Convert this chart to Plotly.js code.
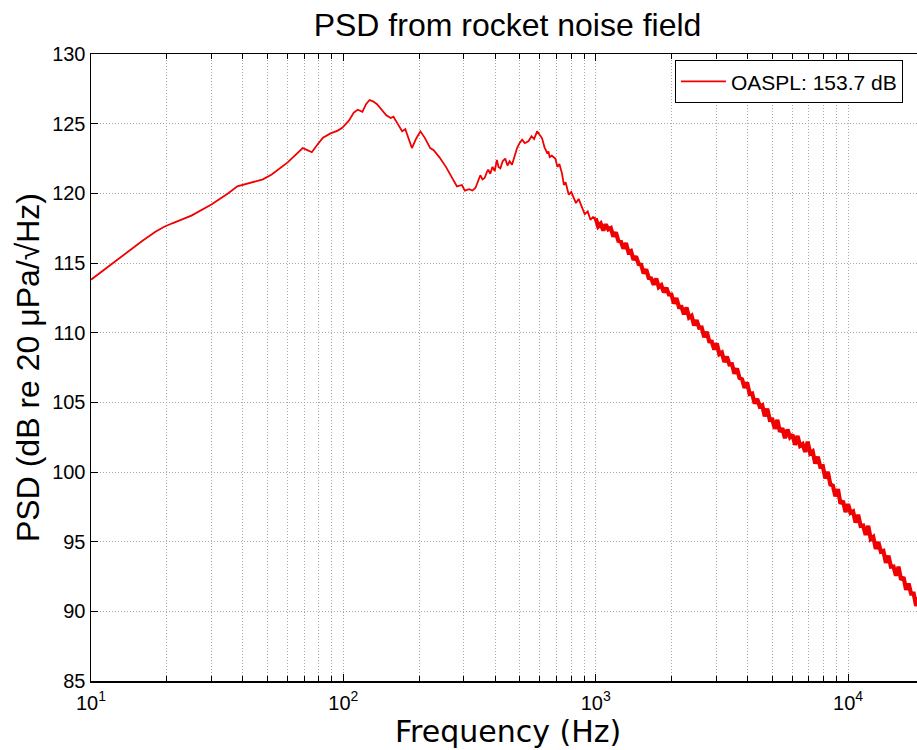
<!DOCTYPE html>
<html>
<head>
<meta charset="utf-8">
<script src="https://cdn.plot.ly/plotly-3.0.1.min.js"></script>
<style>
html,body{margin:0;padding:0;overflow:hidden;background:#fff;}
#chart{width:934px;height:750px;}
</style>
</head>
<body>
<div id="chart"></div>
<script>
// Smooth low/mid-frequency part (Hz, dB)
var freqLow = [10, 12, 14, 16, 18, 19.5, 21, 25, 30, 35, 38, 42, 48, 52, 56, 60, 65, 69, 72, 75, 79, 83, 89, 95, 99, 105, 110, 114, 119, 123, 127, 131, 136, 142, 148, 154, 158, 164, 171, 176, 182, 187, 194, 202, 210, 221, 228, 240, 255, 270, 282, 295, 303, 315, 325, 334, 342, 349, 356, 363, 370, 375, 382, 390, 398, 406, 412, 419, 428, 438, 447, 456, 466, 477, 488, 499, 511, 524, 542, 557, 570, 586, 600, 613, 627, 642, 650, 657, 670, 692, 705, 718, 736, 748, 760, 782, 800, 818, 835, 856, 880, 905, 930, 953, 975, 1000];
var psdLow = [113.8, 114.9, 115.8, 116.6, 117.25, 117.6, 117.85, 118.4, 119.2, 120.0, 120.5, 120.7, 121.0, 121.35, 121.8, 122.2, 122.8, 123.25, 123.1, 122.95, 123.5, 124.0, 124.3, 124.5, 124.7, 125.2, 125.8, 126.0, 125.85, 126.4, 126.7, 126.6, 126.4, 126.0, 125.6, 125.4, 125.5, 125.0, 124.45, 124.6, 123.8, 123.25, 123.9, 124.45, 124.0, 123.25, 123.1, 122.6, 121.9, 121.1, 120.5, 120.6, 120.2, 120.3, 120.2, 120.4, 120.9, 121.3, 121.0, 121.1, 121.5, 121.7, 121.4, 121.9, 121.6, 122.4, 121.9, 121.8, 122.3, 122.5, 122.0, 122.3, 122.05, 122.7, 123.25, 123.6, 123.85, 123.6, 123.75, 124.1, 123.9, 124.45, 124.2, 123.95, 123.3, 122.9, 123.0, 122.6, 122.7, 122.5, 121.9, 122.1, 121.4, 120.6, 120.8, 119.9, 120.1, 119.7, 119.3, 119.6, 119.0, 118.5, 118.7, 118.1, 118.3, 118.2];

// Noisy high-frequency part (Hz, dB)
var freqHigh = [1000, 1023, 1047, 1072, 1096, 1122, 1148, 1175, 1202, 1230, 1259, 1288, 1318, 1349, 1380, 1413, 1445, 1479, 1514, 1549, 1585, 1622, 1660, 1698, 1738, 1778, 1820, 1862, 1905, 1950, 1995, 2042, 2089, 2138, 2188, 2239, 2291, 2344, 2399, 2455, 2512, 2570, 2630, 2692, 2754, 2818, 2884, 2951, 3020, 3090, 3162, 3236, 3311, 3388, 3467, 3548, 3631, 3715, 3802, 3890, 3981, 4074, 4169, 4266, 4365, 4467, 4571, 4677, 4786, 4898, 5012, 5129, 5248, 5370, 5495, 5623, 5754, 5888, 6026, 6166, 6310, 6457, 6607, 6761, 6918, 7079, 7244, 7413, 7586, 7762, 7943, 8128, 8318, 8511, 8710, 8913, 9120, 9333, 9550, 9772, 10000, 10233, 10471, 10715, 10965, 11220, 11482, 11749, 12023, 12303, 12589, 12882, 13183, 13490, 13804, 14125, 14454, 14791, 15136, 15488, 15849, 16218, 16596, 16982, 17378, 17783, 18197, 18621, 19055, 19498, 19953];
var psdHigh = [118.2, 117.63, 117.82, 117.34, 117.77, 117.41, 117.51, 116.9, 117.2, 116.59, 116.53, 116.03, 116.43, 115.77, 115.86, 115.23, 115.48, 114.93, 114.88, 114.26, 114.55, 113.93, 113.89, 113.45, 113.89, 113.27, 113.41, 112.89, 113.23, 112.74, 112.74, 112.09, 112.48, 111.83, 111.84, 111.32, 111.81, 111.08, 111.21, 110.52, 110.89, 110.35, 110.37, 109.68, 110.06, 109.38, 109.35, 108.79, 109.23, 108.46, 108.57, 107.89, 108.27, 107.72, 107.74, 107.06, 107.43, 106.74, 106.66, 106.04, 106.43, 105.6, 105.64, 104.91, 105.25, 104.71, 104.79, 103.99, 104.54, 103.74, 103.76, 103.1, 103.74, 102.88, 103.14, 102.42, 103.05, 102.5, 102.68, 101.95, 102.59, 101.88, 102.0, 101.44, 102.17, 101.34, 101.48, 100.6, 101.09, 100.39, 100.42, 99.54, 100.01, 99.1, 99.02, 98.25, 98.77, 97.73, 97.93, 97.13, 97.69, 97.07, 97.17, 96.37, 96.93, 96.13, 96.15, 95.49, 96.14, 95.2, 95.34, 94.48, 94.98, 94.29, 94.34, 93.48, 94.0, 93.2, 93.22, 92.56, 93.2, 92.27, 92.45, 91.55, 92.0, 91.27, 91.27, 90.39, 90.98, 90.22, 90.27];

var seriesName = 'OASPL: 153.7 dB';
var xTickVals = [10, 100, 1000, 10000];
var xTickText = ['10<sup>1</sup>', '10<sup>2</sup>', '10<sup>3</sup>', '10<sup>4</sup>'];
var xMinorVals = [20,30,40,50,60,70,80,90,200,300,400,500,600,700,800,900,2000,3000,4000,5000,6000,7000,8000,9000,20000];

var gridDash = '1px,2px';
var gridColor = '#a8a8a8';
var lineColor = '#f00000';

var traceLow = {
  x: freqLow, y: psdLow, type: 'scatter', mode: 'lines', name: seriesName,
  legendgroup: 'psd', showlegend: true,
  line: {color: lineColor, width: 1.8}
};
var traceHigh = {
  x: freqHigh, y: psdHigh, type: 'scatter', mode: 'lines', name: seriesName,
  legendgroup: 'psd', showlegend: false,
  line: {color: lineColor, width: 4.2}
};

var fontA = 'Liberation Sans, Arial, sans-serif';

var layout = {
  width: 934, height: 750,
  margin: {l: 91, r: 10, t: 54, b: 69},
  paper_bgcolor: '#ffffff', plot_bgcolor: '#ffffff',
  title: {text: 'PSD from rocket noise field', font: {family: fontA, size: 32, color: '#000'},
          x: 0.5, xref: 'paper', xanchor: 'center', y: 1 - 25/750, yanchor: 'middle'},
  showlegend: true,
  legend: {x: 0.701, xanchor: 'left', y: 0.99, yanchor: 'top', bgcolor: '#fff', bordercolor: '#000', borderwidth: 1,
           font: {family: fontA, size: 21, color: '#000'}, itemwidth: 45},
  xaxis: {
    type: 'log', range: [1, Math.log10(20000)],
    tickmode: 'array', tickvals: xTickVals, ticktext: xTickText,
    ticks: 'inside', ticklen: 7, tickcolor: '#000', tickwidth: 1,
    ticklabelstandoff: 3,
    showline: true, linecolor: '#000', linewidth: 1.5, mirror: 'ticks',
    showgrid: true, gridcolor: gridColor, griddash: gridDash, gridwidth: 1,
    zeroline: false,
    tickfont: {family: fontA, size: 20, color: '#000'},
    minor: {tickmode: 'array', tickvals: xMinorVals, ticks: 'inside', ticklen: 5, tickcolor: '#000',
            showgrid: true, gridcolor: gridColor, griddash: gridDash, gridwidth: 1}
  },
  yaxis: {
    range: [85, 130], dtick: 5, tick0: 85,
    ticks: 'inside', ticklen: 7, tickcolor: '#000', tickwidth: 1,
    showline: true, linecolor: '#000', linewidth: 1.5, mirror: 'ticks',
    showgrid: true, gridcolor: gridColor, griddash: gridDash, gridwidth: 1,
    zeroline: false,
    tickfont: {family: fontA, size: 20, color: '#000'},
    title: {text: 'PSD (dB re 20 \u03bcPa/\u221aHz)', font: {family: fontA, size: 32, color: '#000'}, standoff: 3}
  },
  annotations: [{
    text: 'Frequency (Hz)', xref: 'paper', yref: 'paper', x: 0.5, y: -50/627,
    xanchor: 'center', yanchor: 'middle', showarrow: false,
    font: {family: 'DejaVu Sans, sans-serif', size: 30, color: '#000'}
  }]
};

Plotly.newPlot('chart', [traceLow, traceHigh], layout, {displayModeBar: false, staticPlot: true});
</script>
</body>
</html>
